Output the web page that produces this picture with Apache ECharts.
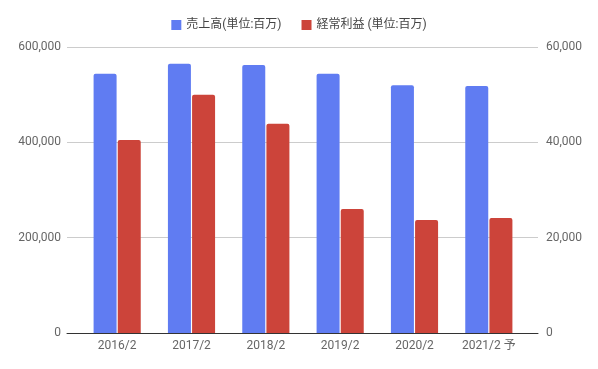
<!DOCTYPE html>
<html><head><meta charset="utf-8">
<script src="https://cdn.jsdelivr.net/npm/echarts@6/dist/echarts.min.js"></script>
<style>html,body{margin:0;padding:0;background:#fff}#c{width:598px;height:369px}</style>
</head><body><div id="c"></div>
<script>
const categories = ['2016/2','2017/2','2018/2','2019/2','2020/2','2021/2 予'];
const salesName = '売上高(単位:百万)';
const profitName = '経常利益 (単位:百万)';
const sales = [544000, 565000, 562000, 544000, 520000, 518000];
const profit = [40500, 50000, 43900, 26000, 23700, 24100];
const leftTicks = {min: 0, max: 600000, interval: 200000};
const rightTicks = {min: 0, max: 60000, interval: 20000};

const FONT = "Roboto, 'Noto Sans CJK JP', sans-serif";
const fmt = v => v.toLocaleString('en-US');
const chart = echarts.init(document.getElementById('c'), null, {renderer: 'canvas'});
chart.setOption({
  animation: false,
  textStyle: {fontFamily: FONT},
  legend: {
    top: 14, left: 'center', itemWidth: 10, itemHeight: 10, itemGap: 20,
    icon: 'rect',
    textStyle: {fontSize: 12, color: '#444', fontFamily: FONT},
    data: [salesName, profitName]
  },
  grid: [
    {left: 80, right: 72, top: 47, bottom: 36},
    {left: 67, right: 60, top: 47, bottom: 36}
  ],
  xAxis: [
    {type: 'category', gridIndex: 0, data: categories,
     axisLine: {show: false}, axisTick: {show: false},
     axisLabel: {color: '#666', fontSize: 12, margin: 7, fontFamily: FONT}},
    {type: 'value', gridIndex: 1, min: 0, max: 1,
     axisLine: {show: true, lineStyle: {color: '#333', width: 1}},
     axisTick: {show: false}, axisLabel: {show: false}, splitLine: {show: false}}
  ],
  yAxis: [
    {type: 'value', gridIndex: 1, position: 'left', ...leftTicks,
     axisLine: {show: false}, axisTick: {show: false},
     axisLabel: {color: '#666', fontSize: 12, margin: 6, formatter: fmt, fontFamily: FONT},
     splitLine: {lineStyle: {color: '#ccc'}}},
    {type: 'value', gridIndex: 1, position: 'right', ...rightTicks,
     axisLine: {show: false}, axisTick: {show: false},
     axisLabel: {color: '#666', fontSize: 12, margin: 8, formatter: fmt, fontFamily: FONT},
     splitLine: {show: false}},
    {type: 'value', gridIndex: 0, ...leftTicks, show: false, splitLine: {show: false}},
    {type: 'value', gridIndex: 0, ...rightTicks, show: false, splitLine: {show: false}}
  ],
  series: [
    {name: salesName, type: 'bar', xAxisIndex: 0, yAxisIndex: 2, data: sales,
     barWidth: 23, barGap: '5%', itemStyle: {color: '#607cf2', borderRadius: [2,2,0,0]}},
    {name: profitName, type: 'bar', xAxisIndex: 0, yAxisIndex: 3, data: profit,
     barWidth: 23, barGap: '5%', itemStyle: {color: '#cc443a', borderRadius: [2,2,0,0]}}
  ]
});
</script></body></html>
